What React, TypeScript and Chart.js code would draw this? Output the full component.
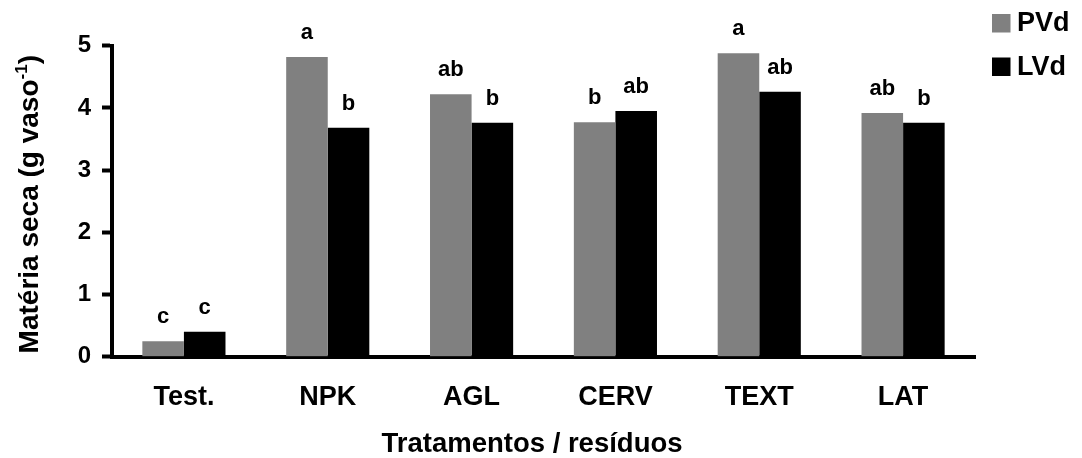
import React, { useEffect, useRef } from "react";
import { Chart, registerables } from "chart.js";

Chart.register(...registerables);

// Dry matter per pot, by treatment and soil
const categories = ["Test.", "NPK", "AGL", "CERV", "TEXT", "LAT"];
const pvdValues = [0.25, 4.82, 4.22, 3.77, 4.88, 3.92];
const lvdValues = [0.4, 3.68, 3.76, 3.95, 4.26, 3.76];
// Mean-comparison letters shown above each bar
const pvdLetters = ["c", "a", "ab", "b", "a", "ab"];
const lvdLetters = ["c", "b", "b", "ab", "ab", "b"];
const seriesNames = ["PVd", "LVd"];
const seriesColors = ["#808080", "#000000"];
const yTickValues = [0, 1, 2, 3, 4, 5];
const xTitle = "Tratamentos / resíduos";

const FONT = "'Liberation Sans', Arial, Helvetica, sans-serif";
const W = 1082;
const H = 458;

const letterPlugin = {
  id: "letterPlugin",
  afterDatasetsDraw(chart: any) {
    const ctx = chart.ctx;
    const sets = [pvdLetters, lvdLetters];
    ctx.save();
    ctx.font = `bold 22px ${FONT}`;
    ctx.fillStyle = "#000";
    ctx.textAlign = "center";
    ctx.textBaseline = "alphabetic";
    sets.forEach((letters, i) => {
      const meta = chart.getDatasetMeta(i);
      meta.data.forEach((bar: any, j: number) => {
        ctx.fillText(letters[j], bar.x, bar.y - 18);
      });
    });
    ctx.restore();
  },
};

const legendPlugin = {
  id: "legendPlugin",
  afterDraw(chart: any) {
    const ctx = chart.ctx;
    ctx.save();
    ctx.font = `bold 27px ${FONT}`;
    ctx.textAlign = "left";
    ctx.textBaseline = "middle";
    const rows = [23, 66.5];
    chart.data.datasets.forEach((ds: any, i: number) => {
      const cy = rows[i];
      ctx.fillStyle = ds.backgroundColor;
      ctx.fillRect(992, cy - 9, 18.5, 18.5);
      ctx.fillStyle = "#000";
      ctx.fillText(ds.label, 1017, cy + 1);
    });
    ctx.restore();
  },
};

const titlesPlugin = {
  id: "titlesPlugin",
  afterDraw(chart: any) {
    const ctx = chart.ctx;
    const area = chart.chartArea;
    ctx.save();
    ctx.fillStyle = "#000";

    // x-axis title
    ctx.font = `bold 27.5px ${FONT}`;
    ctx.textAlign = "center";
    ctx.textBaseline = "alphabetic";
    ctx.fillText(xTitle, 532, 452);

    // y-axis title with superscript exponent
    const main = "Matéria seca (g vaso";
    const sup = "-1";
    const tail = ")";
    const bigFont = `bold 28px ${FONT}`;
    const smallFont = `bold 17px ${FONT}`;
    ctx.font = bigFont;
    const wMain = ctx.measureText(main).width;
    const wTail = ctx.measureText(tail).width;
    ctx.font = smallFont;
    const wSup = ctx.measureText(sup).width;
    const total = wMain + wSup + wTail;
    const cx = 28;
    const cy = (area.top + area.bottom) / 2 + 3;
    ctx.translate(cx, cy);
    ctx.rotate(-Math.PI / 2);
    ctx.textAlign = "left";
    const base = 10;
    let x = -total / 2;
    ctx.font = bigFont;
    ctx.fillText(main, x, base);
    x += wMain;
    ctx.font = smallFont;
    ctx.fillText(sup, x, base - 11);
    x += wSup;
    ctx.font = bigFont;
    ctx.fillText(tail, x, base);
    ctx.restore();
  },
};

export default function App() {
  const canvasRef = useRef<HTMLCanvasElement | null>(null);

  useEffect(() => {
    const canvas = canvasRef.current;
    if (!canvas) return;
    const chart = new Chart(canvas, {
      type: "bar",
      data: {
        labels: categories,
        datasets: [
          {
            label: seriesNames[0],
            data: pvdValues,
            backgroundColor: seriesColors[0],
            borderWidth: 0,
          },
          {
            label: seriesNames[1],
            data: lvdValues,
            backgroundColor: seriesColors[1],
            borderWidth: 0,
          },
        ],
      },
      options: {
        responsive: false,
        animation: false,
        devicePixelRatio: 1,
        layout: { padding: { top: 45.7, right: 107, left: 0, bottom: 0 } },
        datasets: {
          bar: { categoryPercentage: 0.578, barPercentage: 1.0 },
        },
        plugins: {
          legend: { display: false },
          tooltip: { enabled: false },
          title: { display: false },
        },
        scales: {
          x: {
            type: "category",
            z: 1,
            grid: { display: true, drawOnChartArea: false, drawTicks: false },
            border: { display: true, color: "#000", width: 4 },
            ticks: {
              color: "#000",
              font: { family: FONT, size: 27, weight: "bold" },
              padding: 25,
              maxRotation: 0,
            },
            afterFit(scale: any) {
              scale.height = H - 356.7;
            },
          },
          y: {
            min: 0,
            max: 5,
            z: 1,
            afterBuildTicks(scale: any) {
              scale.ticks = yTickValues.map((v) => ({ value: v }));
            },
            grid: {
              display: true,
              drawOnChartArea: false,
              drawTicks: true,
              tickLength: 10,
              tickWidth: 4,
              tickColor: "#000",
            },
            border: { display: true, color: "#000", width: 4 },
            ticks: {
              color: "#000",
              font: { family: FONT, size: 24, weight: "bold" },
              padding: 11,
            },
            afterFit(scale: any) {
              scale.width = 112;
            },
          },
        },
      },
      plugins: [letterPlugin, legendPlugin, titlesPlugin],
    });
    return () => chart.destroy();
  }, []);

  return (
    <div style={{ position: "absolute", left: 0, top: 0, width: W, height: H, background: "#fff" }}>
      <canvas ref={canvasRef} width={W} height={H} style={{ display: "block", width: W, height: H }} />
    </div>
  );
}
